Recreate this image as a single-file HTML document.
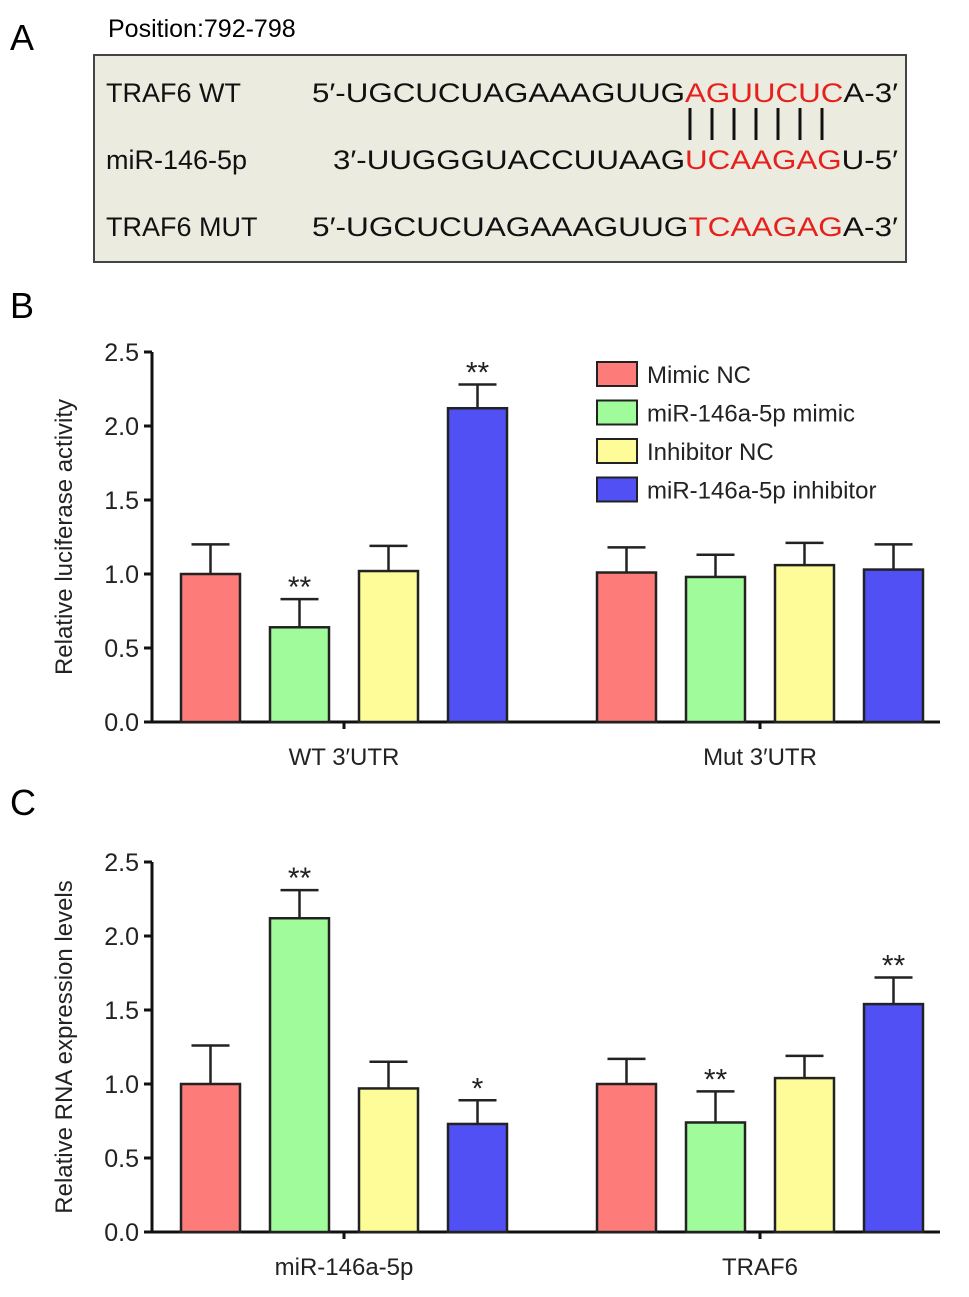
<!DOCTYPE html>
<html><head><meta charset="utf-8"><style>
body{margin:0;background:#fff}
svg{display:block;font-family:"Liberation Sans",Arial,sans-serif}
</style></head><body>
<svg width="969" height="1297" viewBox="0 0 969 1297">
<text x="10" y="50" font-size="36">A</text>
<text x="108" y="37" font-size="25">Position:792-798</text>
<rect x="94" y="55" width="812" height="207" fill="#ebebdf" stroke="#444" stroke-width="2"/>
<g font-size="27" fill="#111">
<text x="106" y="102">TRAF6 WT</text>
<text x="106" y="169">miR-146-5p</text>
<text x="106" y="236">TRAF6 MUT</text>
<text x="312" y="102" textLength="586" lengthAdjust="spacingAndGlyphs">5′-UGCUCUAGAAAGUUG<tspan fill="#e8201c">AGUUCUC</tspan>A-3′</text>
<text x="333" y="169" textLength="565" lengthAdjust="spacingAndGlyphs">3′-UUGGGUACCUUAAG<tspan fill="#e8201c">UCAAGAG</tspan>U-5′</text>
<text x="312" y="236" textLength="586" lengthAdjust="spacingAndGlyphs">5′-UGCUCUAGAAAGUUG<tspan fill="#e8201c">TCAAGAG</tspan>A-3′</text>
</g>
<g stroke="#111" stroke-width="3">
<line x1="690" y1="108" x2="690" y2="140"/><line x1="712" y1="108" x2="712" y2="140"/><line x1="734" y1="108" x2="734" y2="140"/><line x1="756" y1="108" x2="756" y2="140"/><line x1="778" y1="108" x2="778" y2="140"/><line x1="800" y1="108" x2="800" y2="140"/><line x1="822" y1="108" x2="822" y2="140"/>
</g>
<text x="10" y="318" font-size="36">B</text>
<text x="10" y="815" font-size="36">C</text>
<g id="chartB"></g>
<g id="chartC"></g>
<g id="legend"></g>
</svg>
<script>
const seriesNames=["Mimic NC","miR-146a-5p mimic","Inhibitor NC","miR-146a-5p inhibitor"];
const colors=["#fd7b78","#a0fc9a","#fdfc98","#5050f5"];
const yTicks=[0,0.5,1.0,1.5,2.0,2.5];
const catsB=["WT 3′UTR","Mut 3′UTR"];
const valsB=[[1.0,0.64,1.02,2.12],[1.01,0.98,1.06,1.03]];
const errB=[[0.20,0.19,0.17,0.16],[0.17,0.15,0.15,0.17]];
const starsB=[["","**","","**"],["","","",""]];
const catsC=["miR-146a-5p","TRAF6"];
const valsC=[[1.0,2.12,0.97,0.73],[1.0,0.74,1.04,1.54]];
const errC=[[0.26,0.19,0.18,0.16],[0.17,0.21,0.15,0.18]];
const starsC=[["","**","","*"],["","**","","**"]];
const NS="http://www.w3.org/2000/svg";
function mk(p,t,a){const e=document.createElementNS(NS,t);for(const k in a)e.setAttribute(k,a[k]);p.appendChild(e);return e;}
function chart(g,y0,cats,vals,errs,stars,title,prefix){
  const x0=152,x1=940,ymax=2.5,h=370;
  const ys=v=>y0-v/ymax*h;
  const groupStart=[181,597],step=89,bw=59;
  const ax=mk(g,'line',{x1:x0,y1:y0+1,x2:x0,y2:ys(2.5),stroke:'#111','stroke-width':3});
  
  
  const xa=mk(g,'line',{x1:x0-8,y1:y0,x2:x1,y2:y0,stroke:'#111','stroke-width':3});
  
  
  yTicks.forEach(t=>{
    mk(g,'line',{x1:x0-8,y1:ys(t),x2:x0,y2:ys(t),stroke:'#111','stroke-width':3});
    const tx=mk(g,'text',{x:x0-13,y:ys(t)+9,'font-size':25,'text-anchor':'end',fill:'#222'});
    tx.textContent=t.toFixed(1);
    
    
  });
  const yt=mk(g,'text',{x:0,y:0,'font-size':24,'text-anchor':'middle',fill:'#222',transform:`translate(72,${y0-h/2}) rotate(-90)`});
  yt.textContent=title;
  
  
  cats.forEach((c,gi)=>{
    const cx=groupStart[gi]+(3*step+bw)/2;
    mk(g,'line',{x1:cx,y1:y0,x2:cx,y2:y0+7,stroke:'#111','stroke-width':3});
    const ct=mk(g,'text',{x:cx,y:y0+43,'font-size':24,'text-anchor':'middle',fill:'#222'});
    ct.textContent=c;
    
    
    vals[gi].forEach((v,si)=>{
      const bx=groupStart[gi]+si*step, top=ys(v), et=ys(v+errs[gi][si]);
      const bcx=bx+bw/2;
      const el=mk(g,'line',{x1:bcx,y1:top,x2:bcx,y2:et,stroke:'#222','stroke-width':2.5});
      
      
      mk(g,'line',{x1:bcx-19,y1:et,x2:bcx+19,y2:et,stroke:'#222','stroke-width':2.5});
      const r=mk(g,'rect',{x:bx,y:top,width:bw,height:y0-top,fill:colors[si],stroke:'#222','stroke-width':2.5});
      
      
      if(stars[gi][si]){
        const s=mk(g,'text',{x:bcx,y:et-2,'font-size':30,'text-anchor':'middle',fill:'#222'});
        s.textContent=stars[gi][si];
        
        
      }
    });
  });
}
chart(document.getElementById('chartB'),722,catsB,valsB,errB,starsB,'Relative luciferase activity','b');
chart(document.getElementById('chartC'),1232,catsC,valsC,errC,starsC,'Relative RNA expression levels','c');
const lg=document.getElementById('legend');
seriesNames.forEach((n,i)=>{
  const y=362+i*38.5;
  const r=mk(lg,'rect',{x:597,y:y,width:40,height:24,fill:colors[i],stroke:'#222','stroke-width':2});
  
  
  const t=mk(lg,'text',{x:647,y:y+21,'font-size':24,fill:'#222'});
  t.textContent=n;
  
  
});
</script>
</body></html>
